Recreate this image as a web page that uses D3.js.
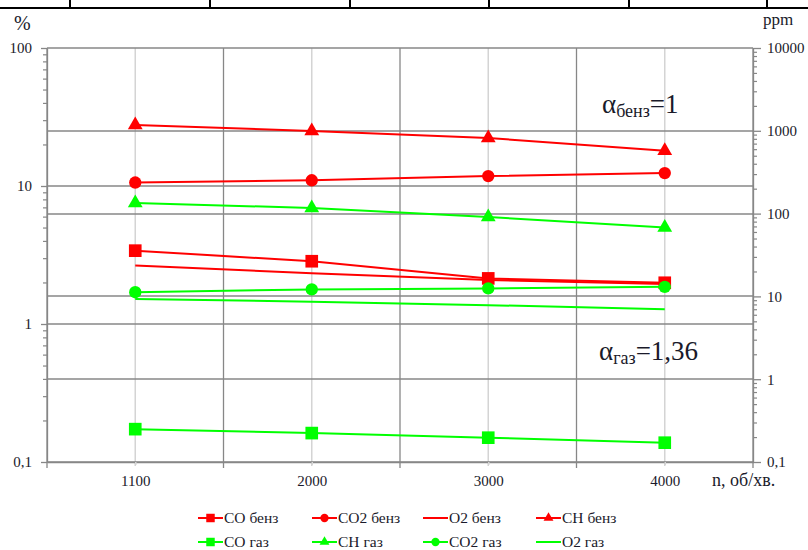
<!DOCTYPE html>
<html><head><meta charset="utf-8">
<script src="https://cdn.jsdelivr.net/npm/d3@7"></script>
<style>body{margin:0;background:#fff}svg{display:block}</style>
</head><body>
<svg id="c" width="808" height="550"></svg>
<script>
const categories = ["1100","2000","3000","4000"];
const leftTicks = [0.1,1,10,100];
const leftTickLabels = ["0,1","1","10","100"];
const rightTicks = [0.1,1,10,100,1000,10000];
const rightTickLabels = ["0,1","1","10","100","1000","10000"];
// values
const coBenz  = [3.40, 2.85, 2.14, 1.99];   // %
const co2Benz = [10.6, 11.0, 11.8, 12.4];   // %
const o2Benz  = [2.65, 2.33, 2.08, 1.95];   // %
const chBenz  = [1175, 995, 818, 575];      // ppm
const coGas   = [0.173, 0.162, 0.150, 0.138]; // %
const chGas   = [134, 117, 91, 68];         // ppm
const co2Gas  = [1.70, 1.78, 1.81, 1.86];   // %
const o2Gas   = [1.52, 1.45, 1.37, 1.28];   // %

const RED="#ff0000", GREEN="#00ff00";
const series = [
  {name:"CO бенз", values:coBenz, color:RED, marker:"square", axis:"L"},
  {name:"CO2 бенз", values:co2Benz, color:RED, marker:"circle", axis:"L"},
  {name:"O2 бенз", values:o2Benz, color:RED, marker:null, axis:"L"},
  {name:"CH бенз", values:chBenz, color:RED, marker:"triangle", axis:"R"},
  {name:"CO газ", values:coGas, color:GREEN, marker:"square", axis:"L"},
  {name:"CH газ", values:chGas, color:GREEN, marker:"triangle", axis:"R"},
  {name:"CO2 газ", values:co2Gas, color:GREEN, marker:"circle", axis:"L"},
  {name:"O2 газ", values:o2Gas, color:GREEN, marker:null, axis:"L"}
];

const svg = d3.select("#c");
const L=47, R=753, T=48, B=462;
const x = d3.scalePoint().domain(categories).range([L,R]).padding(0.5);
const yL = d3.scaleLog().domain([0.1,100]).range([B,T]);
const yR = d3.scaleLog().domain([0.1,10000]).range([B,T]);
const GRID="#878787", LIGHT="#d4d4d4", TXT="#1a1a2a";

// top table border fragment
svg.append("line").attr("x1",0).attr("x2",808).attr("y1",8).attr("y2",8).attr("stroke","#000").attr("stroke-width",2);
[70,210,350,489,629,767].forEach(v=>svg.append("line").attr("x1",v).attr("x2",v).attr("y1",0).attr("y2",8).attr("stroke","#000").attr("stroke-width",2));

// light vertical lines at category centers
svg.append("g").selectAll("line").data(categories).join("line")
  .attr("x1",d=>x(d)).attr("x2",d=>x(d)).attr("y1",T).attr("y2",B+4)
  .attr("stroke",LIGHT).attr("stroke-width",1.5);
// category boundaries
const bounds = categories.map(d=>x(d)+x.step()/2);
svg.append("g").selectAll("line").data(bounds).join("line")
  .attr("x1",d=>d).attr("x2",d=>d).attr("y1",T).attr("y2",B+6)
  .attr("stroke",GRID).attr("stroke-width",1.3);

// horizontal grid at major ticks of both axes
const gy = Array.from(new Set(leftTicks.map(v=>Math.round(yL(v))).concat(rightTicks.map(v=>Math.round(yR(v))))));
svg.append("g").selectAll("line").data(gy).join("line")
  .attr("x1",L).attr("x2",R).attr("y1",d=>d).attr("y2",d=>d)
  .attr("stroke",GRID).attr("stroke-width",1.3);

function styleAxis(g){
  g.select(".domain").attr("stroke",GRID).attr("stroke-width",1.3);
  g.selectAll(".tick line").attr("stroke",GRID).attr("stroke-width",1.3);
  g.selectAll("text").attr("font-size",15).attr("fill",TXT);
}
function minors(dom){
  const out=[];
  for(let e=Math.log10(dom[0]); e<Math.log10(dom[1])-1e-9; e++){
    for(let k=2;k<=9;k++) out.push(k*Math.pow(10,e));
  }
  return out;
}
// left axis
svg.append("g").attr("transform",`translate(${L},0)`)
  .call(d3.axisLeft(yL).tickValues(minors(yL.domain())).tickSize(4).tickFormat(""))
  .call(g=>{g.select(".domain").remove();g.selectAll(".tick line").attr("stroke",GRID).attr("stroke-width",1.2);});
svg.append("g").attr("transform",`translate(${L},0)`)
  .call(d3.axisLeft(yL).tickValues(leftTicks).tickSize(6).tickPadding(9).tickSizeOuter(0)
    .tickFormat((d,i)=>leftTickLabels[i]))
  .call(styleAxis);
svg.append("line").attr("x1",L).attr("x2",L).attr("y1",T).attr("y2",B+6).attr("stroke",GRID).attr("stroke-width",1.3);
// right axis
svg.append("g").attr("transform",`translate(${R},0)`)
  .call(d3.axisRight(yR).tickValues(minors(yR.domain())).tickSize(4).tickFormat(""))
  .call(g=>{g.select(".domain").remove();g.selectAll(".tick line").attr("stroke",GRID).attr("stroke-width",1.2);});
svg.append("g").attr("transform",`translate(${R},0)`)
  .call(d3.axisRight(yR).tickValues(rightTicks).tickSize(8).tickPadding(6).tickSizeOuter(0)
    .tickFormat((d,i)=>rightTickLabels[i]))
  .call(styleAxis);
// bottom axis
svg.append("g").attr("transform",`translate(0,${B})`)
  .call(d3.axisBottom(x).tickSize(3).tickPadding(10).tickSizeOuter(0))
  .call(g=>{g.select(".domain").attr("stroke",GRID).attr("stroke-width",1.3);
    g.selectAll(".tick line").attr("stroke",LIGHT).attr("stroke-width",1.5);
    g.selectAll("text").attr("font-size",15).attr("fill",TXT);});

// axis titles
svg.append("text").attr("x",14).attr("y",30).attr("font-size",20).text("%");
svg.append("text").attr("x",763).attr("y",25).attr("font-size",17).text("ppm");
svg.append("text").attr("x",712).attr("y",486).attr("font-size",18).text("n, об/хв.");

// annotations
const a1 = svg.append("text").attr("x",602).attr("y",113).attr("font-size",27);
a1.append("tspan").text("α");
a1.append("tspan").attr("font-size",18).attr("dy",4).text("бенз");
a1.append("tspan").attr("dy",-4).text("=1");
const a2 = svg.append("text").attr("x",599).attr("y",360).attr("font-size",27);
a2.append("tspan").text("α");
a2.append("tspan").attr("font-size",18).attr("dy",4).text("газ");
a2.append("tspan").attr("dy",-4).text("=1,36");

// series
function symPath(m, scale){
  if(m==="square") return d3.symbol(d3.symbolSquare, 160*scale)();
  if(m==="circle") return d3.symbol(d3.symbolCircle, 120*scale)();
  if(m==="triangle") return d3.symbol(d3.symbolTriangle, 95*scale)();
  return null;
}
const plot = svg.append("g");
series.forEach(s=>{
  const ys = s.axis==="L"? yL : yR;
  const line = d3.line().x((d,i)=>x(categories[i])).y(d=>ys(d));
  plot.append("path").datum(s.values).attr("d",line).attr("fill","none")
    .attr("stroke",s.color).attr("stroke-width",2);
  if(s.marker){
    plot.append("g").selectAll("path").data(s.values).join("path")
      .attr("d",symPath(s.marker,1))
      .attr("transform",(d,i)=>`translate(${x(categories[i])},${ys(d)})`)
      .attr("fill",s.color);
  }
});

// legend
const legX = [198,312,423,536];
const legY = [518,542];
series.forEach((s,i)=>{
  const g = svg.append("g").attr("transform",`translate(${legX[i%4]},${legY[Math.floor(i/4)]})`);
  g.append("line").attr("x1",0).attr("x2",25).attr("stroke",s.color).attr("stroke-width",2);
  if(s.marker) g.append("path").attr("d",symPath(s.marker,0.45)).attr("transform","translate(12.5,0)").attr("fill",s.color);
  g.append("text").attr("x",26).attr("y",5).attr("font-size",15.5).text(s.name);
});

svg.selectAll("text").style("font-family","'Liberation Serif'");
svg.selectAll("text").filter(function(){return !this.getAttribute("fill");}).attr("fill",TXT);
</script>
</body></html>
